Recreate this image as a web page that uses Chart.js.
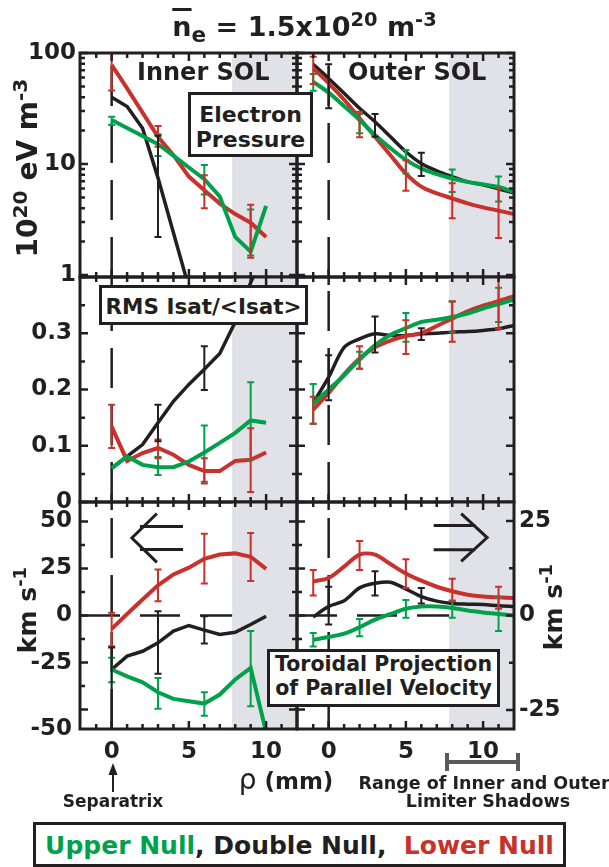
<!DOCTYPE html>
<html>
<head>
    <title>SOL profiles</title>
    <script src="https://cdn.jsdelivr.net/npm/chart.js"></script>
    <style>
        body { margin: 0; background: #fff; font-family: "DejaVu Sans", sans-serif; font-weight: bold; color: #231f20; }
        #fig { position: relative; width: 609px; height: 867px; overflow: hidden; }
        #fig canvas { position: absolute; }
        .txt { position: absolute; white-space: nowrap; line-height: 1; z-index: 5; }
        .box { position: absolute; box-sizing: border-box; border: 3px solid #231f20; background: #fff;
               text-align: center; white-space: nowrap; z-index: 6; }
        .rot { position: absolute; transform: translate(-50%, -50%) rotate(-90deg); white-space: nowrap;
               line-height: 1; z-index: 5; }
        sup, sub { font-size: 0.72em; line-height: 0; }
    </style>
</head>
<body>
<div id="fig">
    <canvas id="pressIn"></canvas>
    <canvas id="pressOut"></canvas>
    <canvas id="rmsIn"></canvas>
    <canvas id="rmsOut"></canvas>
    <canvas id="velIn"></canvas>
    <canvas id="velOut"></canvas>

    <div class="txt" style="left:0;width:609px;top:13px;text-align:center;font-size:27px">
        <span style="text-decoration:overline;text-decoration-thickness:3px">n</span><sub style="font-size:0.8em">e</sub> = 1.5x10<sup>20</sup> m<sup>-3</sup>
    </div>

    <div class="txt" style="left:137px;top:60px;font-size:24px">Inner SOL</div>
    <div class="txt" style="left:348px;top:60px;font-size:24px">Outer SOL</div>

    <div class="box" style="left:188px;top:92px;width:125px;height:65px;font-size:22px;line-height:25px;padding-top:7px">Electron<br>Pressure</div>
    <div class="box" style="left:99px;top:285px;width:209px;height:40px;font-size:21.5px;line-height:31px;padding-top:3px">RMS Isat/&lt;Isat&gt;</div>
    <div class="box" style="left:267px;top:649px;width:233px;height:58px;font-size:20.5px;line-height:23.5px;padding-top:1px">Toroidal Projection<br>of Parallel Velocity</div>

    <div class="rot" style="left:28px;top:168px;font-size:28px">10<sup>20</sup> eV m<sup>-3</sup></div>
    <div class="rot" style="left:27px;top:610px;font-size:25px">km s<sup>-1</sup></div>
    <div class="rot" style="left:553px;top:607px;font-size:25px">km s<sup>-1</sup></div>

    <div class="txt" style="left:286px;top:770px;font-size:23px;transform:translateX(-50%)"><span style="font-weight:normal;font-size:28px;line-height:0">&rho;</span> (mm)</div>
    <div class="txt" style="left:113px;top:793px;font-size:17px;transform:translateX(-50%)">Separatrix</div>
    <div class="txt" style="left:484px;top:775px;font-size:17.5px;transform:translateX(-50%)">Range of Inner and Outer</div>
    <div class="txt" style="left:488px;top:793px;font-size:17.5px;transform:translateX(-50%)">Limiter Shadows</div>

    <svg width="609" height="867" style="position:absolute;left:0;top:0;z-index:4">
        <line x1="113" y1="792" x2="113" y2="772" stroke="#231f20" stroke-width="2"/>
        <polygon points="113,763 108.5,775 117.5,775" fill="#231f20"/>
        <g stroke="#5a5a5a" stroke-width="4">
            <line x1="447" y1="762" x2="518" y2="762"/>
            <line x1="447" y1="753" x2="447" y2="771"/>
            <line x1="518" y1="753" x2="518" y2="771"/>
        </g>
    </svg>

    <div class="box" style="left:33px;top:822px;width:533px;height:45px;font-size:25px;line-height:37px;padding-top:2px">
        <span style="color:#00a14b">Upper Null</span>, Double Null,&nbsp; <span style="color:#c8312c">Lower Null</span>
    </div>
</div>

<script>
    const GREEN = '#00a14b', BLACK = '#231f20', RED = '#c8312c', SHADE = '#e1e2e7';
    const TICK_FONT = { family: 'DejaVu Sans', size: 23, weight: 'bold' };

    // x axis: distance from separatrix rho (mm)
    const RHO_MIN = -2.05, RHO_MAX = 12;
    const SHADOW_START = 7.8;
    const rhoTicks = [0, 5, 10];
    const innerRho = [0, 1, 2, 3, 4, 5, 6, 7, 8, 9, 10];
    const outerRho = [-1, 0, 1, 2, 3, 4, 5, 6, 7, 8, 9, 10, 11, 12];

    // electron pressure (10^20 eV m^-3)
    const pressTicks = [1, 10, 100];
    const pressInnerUpper  = [24.9, 21.1, 17.9, 15.1, 11.9, 9.3, 7.3, 5.1, 2.2, 1.62, 4.2];
    const pressInnerDouble = [40, 33, 21, 7.5, 2.4, 0.77, null, null, null, null, null];
    const pressInnerLower  = [78, 48, 29, 17.6, 12, 7.7, 5.8, 4.4, 3.54, 2.96, 2.2];
    const pressOuterUpper  = [55, 43.9, 33.2, 24.9, 18.3, 13.9, 10.9, 9.1, 8.1, 7.4, 6.9, 6.55, 6.2, 5.6];
    const pressOuterDouble = [79, 59, 43.4, 31.8, 24, 17.6, 12.9, 10.1, 8.67, 7.7, 6.9, 6.5, 5.95, 5.5];
    const pressOuterLower  = [72.8, 53.3, 37.9, 25.8, 17.6, 12.0, 8.2, 6.25, 5.44, 4.9, 4.42, 4.07, 3.8, 3.54];
    // error bars: [rho, low, high]
    const pressInnerUpperErr  = [[0, 22.4, 26.7], [3, 11.8, 18.5], [6, 5.3, 9.8], [9, 1.5, 3.9]];
    const pressInnerDoubleErr = [[3, 2.2, 18]];
    const pressInnerLowerErr  = [[0, 46, 130], [3, 14.3, 22], [6, 4.0, 7.9], [9, 1.43, 4.3]];
    const pressOuterUpperErr  = [[-1, 45.8, 64.6], [2, 18.9, 28.2], [5, 8.2, 13.4], [8, 5.6, 8.9], [11, 4.6, 7.7]];
    const pressOuterDoubleErr = [[0, 31.8, 79], [3, 17.6, 28.2], [6, 7.8, 12.6]];
    const pressOuterLowerErr  = [[-1, 52.6, 92.7], [2, 17.4, 29.6], [5, 5.75, 10.8], [8, 3.24, 6.7], [11, 2.15, 6.0]];

    // RMS Isat / <Isat>
    const rmsTicks = [0, 0.1, 0.2, 0.3];
    const rmsInnerUpper  = [0.060, 0.081, 0.066, 0.062, 0.062, 0.072, 0.088, 0.105, 0.123, 0.145, 0.141];
    const rmsInnerDouble = [0.060, 0.081, 0.102, 0.141, 0.179, 0.209, 0.236, 0.264, 0.32, 0.39, 0.45];
    const rmsInnerLower  = [0.134, 0.073, 0.087, 0.096, 0.084, 0.066, 0.055, 0.055, 0.073, 0.075, 0.088];
    const rmsOuterUpper  = [0.175, 0.200, 0.225, 0.253, 0.279, 0.297, 0.309, 0.320, 0.324, 0.329, 0.335, 0.344, 0.352, 0.360];
    const rmsOuterDouble = [0.176, 0.222, 0.275, 0.290, 0.299, 0.296, 0.296, 0.299, 0.300, 0.302, 0.303, 0.305, 0.308, 0.314];
    const rmsOuterLower  = [0.164, 0.194, 0.227, 0.255, 0.275, 0.287, 0.295, 0.300, 0.313, 0.326, 0.339, 0.349, 0.357, 0.366];
    const rmsInnerUpperErr  = [[3, 0.048, 0.080], [6, 0.036, 0.136], [9, 0.075, 0.213]];
    const rmsInnerDoubleErr = [[3, 0.108, 0.173], [6, 0.199, 0.277]];
    const rmsInnerLowerErr  = [[0, 0.096, 0.173], [3, 0.078, 0.111], [6, 0.033, 0.078], [9, 0.018, 0.131]];
    const rmsOuterUpperErr  = [[-1, 0.139, 0.21], [2, 0.237, 0.267], [5, 0.285, 0.336], [8, 0.302, 0.356], [11, 0.32, 0.381]];
    const rmsOuterDoubleErr = [[0, 0.181, 0.261], [3, 0.266, 0.330], [6, 0.288, 0.309]];
    const rmsOuterLowerErr  = [[-1, 0.139, 0.187], [2, 0.237, 0.277], [5, 0.263, 0.323], [8, 0.285, 0.357], [11, 0.308, 0.40]];

    // toroidal projection of parallel velocity (km/s); inner on left axis, outer on right axis
    const velInnerTicks = [-50, -25, 0, 25, 50];
    const velOuterTicks = [-25, 0, 25];
    const velInnerUpper  = [-28.7, -32.3, -35.5, -40.8, -44.3, -45.6, -46.8, -42, -34, -27.8, -62];
    const velInnerDouble = [-28.7, -21.6, -19, -14.5, -8.3, -5.3, -7.8, -10.1, -8.9, -4.8, -0.4];
    const velInnerLower  = [-7.1, 0.8, 8.5, 16, 21.8, 25.4, 30.1, 32.4, 33, 31.2, 24.8];
    const velOuterUpper  = [-6.4, -5.7, -4.8, -3.1, -1.1, 0.4, 1.8, 2.4, 2.4, 2.0, 1.3, 0.8, 0.4, 0.0];
    const velOuterDouble = [-0.4, 2.4, 3.9, 7.3, 8.5, 8.8, 7.0, 5.0, 3.8, 3.2, 3.0, 2.9, 2.6, 2.4];
    const velOuterLower  = [9.0, 9.9, 12.9, 16.1, 16.1, 13.6, 11.1, 9.2, 7.6, 6.4, 5.5, 5.0, 4.8, 4.6];
    const velInnerUpperErr  = [[0, -35.5, -22.5], [3, -49.6, -33.2], [6, -53.2, -40.8], [9, -48.2, -8.3]];
    const velInnerDoubleErr = [[0, -62, -17], [3, -30.9, 2.3], [6, -14.9, -0.4]];
    const velInnerLowerErr  = [[0, -16.3, 1.4], [3, 7.6, 24.5], [6, 17, 43.4], [9, 18.3, 43.8]];
    const velOuterUpperErr  = [[-1, -8.2, -4.6], [2, -5.5, -0.9], [5, -0.6, 4.1], [8, -0.6, 3.9], [11, -4.1, 4.7]];
    const velOuterDoubleErr = [[0, -2.4, 7.6], [3, 5.3, 11.7], [6, 3.2, 7.3]];
    const velOuterLowerErr  = [[-1, 5.3, 12.0], [2, 12.0, 19.7], [5, 7.3, 14.9], [8, 3.9, 9.7], [11, 1.8, 7.6]];

    // axis ranges
    const PRESS_MIN = 0.959, PRESS_MAX = 100;
    const RMS_MIN = 0, RMS_MAX = 0.4;
    const VEL_IN_MIN = -60.3, VEL_IN_MAX = 60.3;
    const VEL_OUT_MIN = -30, VEL_OUT_MAX = 30;

    // page geometry of the plot frames
    const FIG_W = 609;
    const COL_INNER = { left: 80, right: 297 };
    const COL_OUTER = { left: 297, right: 514 };
    const ROW_PRESS = { top: 53, bottom: 277 };
    const ROW_RMS = { top: 277, bottom: 502 };
    const ROW_VEL = { top: 502, bottom: 729 };
    const PAD = 30, EDGE = 6, XAXIS_H = 45;

    // minor tick marks
    const rhoMinor = [-1, 1, 2, 3, 4, 6, 7, 8, 9, 11];
    const pressMinor = [];
    for (const d of [1, 10]) for (let k = 2; k <= 9; k++) pressMinor.push(k * d);

    const panelPlugin = {
        id: 'panel',
        beforeDatasetsDraw(chart) {
            const { ctx, chartArea: a } = chart;
            const x0 = chart.scales.x.getPixelForValue(SHADOW_START);
            ctx.save();
            ctx.fillStyle = SHADE;
            ctx.fillRect(x0, a.top, a.right - x0, a.bottom - a.top);
            ctx.restore();
        },
        afterDatasetsDraw(chart, args, opts) {
            const { ctx, chartArea: a } = chart;
            const xs = chart.scales.x;
            ctx.save();
            ctx.beginPath();
            ctx.rect(a.left, a.top, a.right - a.left, a.bottom - a.top);
            ctx.clip();
            // error bars
            chart.data.datasets.forEach(ds => {
                if (!ds.errors) return;
                const ys = chart.scales[ds.yAxisID || 'y'];
                ctx.strokeStyle = ds.borderColor;
                ctx.lineWidth = 2;
                ds.errors.forEach(([r, lo, hi]) => {
                    const px = xs.getPixelForValue(r);
                    const p1 = ys.getPixelForValue(lo), p2 = ys.getPixelForValue(hi);
                    ctx.beginPath();
                    ctx.moveTo(px, p1); ctx.lineTo(px, p2);
                    ctx.moveTo(px - 3.5, p1); ctx.lineTo(px + 3.5, p1);
                    ctx.moveTo(px - 3.5, p2); ctx.lineTo(px + 3.5, p2);
                    ctx.stroke();
                });
            });
            // flow direction arrow
            const ar = opts.arrow;
            if (ar) {
                const ys = chart.scales[ar.axis];
                const X = v => xs.getPixelForValue(v), Y = v => ys.getPixelForValue(v);
                ctx.strokeStyle = BLACK;
                ctx.lineWidth = 3;
                ctx.beginPath();
                ctx.moveTo(X(ar.armX), Y(ar.tipY + ar.armDy));
                ctx.lineTo(X(ar.tipX), Y(ar.tipY));
                ctx.lineTo(X(ar.armX), Y(ar.tipY - ar.armDy));
                ctx.moveTo(X(ar.lineX0), Y(ar.tipY + ar.lineDy)); ctx.lineTo(X(ar.lineX1), Y(ar.tipY + ar.lineDy));
                ctx.moveTo(X(ar.lineX0), Y(ar.tipY - ar.lineDy)); ctx.lineTo(X(ar.lineX1), Y(ar.tipY - ar.lineDy));
                ctx.stroke();
            }
            ctx.restore();
        },
        afterDraw(chart, args, opts) {
            const { ctx, chartArea: a } = chart;
            const xs = chart.scales.x;
            const yl = chart.scales[opts.leftAxis || 'y'], yr = chart.scales[opts.rightAxis || 'y'];
            ctx.save();
            ctx.strokeStyle = BLACK;
            ctx.lineWidth = 2.5;
            ctx.beginPath();
            const tickX = (vals, len) => vals.forEach(v => {
                const p = xs.getPixelForValue(v);
                ctx.moveTo(p, a.top); ctx.lineTo(p, a.top + len);
                ctx.moveTo(p, a.bottom); ctx.lineTo(p, a.bottom - len);
            });
            const tickY = (sc, vals, len, left) => vals.forEach(v => {
                const p = sc.getPixelForValue(v);
                if (left) { ctx.moveTo(a.left, p); ctx.lineTo(a.left + len, p); }
                else { ctx.moveTo(a.right, p); ctx.lineTo(a.right - len, p); }
            });
            tickX(rhoTicks, 8);
            tickX(rhoMinor, 5);
            tickY(yl, opts.left.major, 8, true);
            tickY(yl, opts.left.minor, 5, true);
            const rt = opts.right || opts.left;
            tickY(yr, rt.major, 8, false);
            tickY(yr, rt.minor, 5, false);
            ctx.stroke();
            ctx.lineWidth = 3;
            ctx.strokeRect(a.left, a.top, a.right - a.left, a.bottom - a.top);
            ctx.restore();
        }
    };

    function series(rho, vals, color, width, errors, order, tension) {
        const pts = [];
        rho.forEach((r, i) => { if (vals[i] !== null) pts.push({ x: r, y: vals[i] }); });
        return { data: pts, borderColor: color, borderWidth: width, pointRadius: 0, tension: tension,
                 clip: 0, errors: errors, order: order, yAxisID: 'y' };
    }

    function refLine(pts, dash) {
        return { data: pts, borderColor: BLACK, borderWidth: 2.5, borderDash: dash, pointRadius: 0,
                 order: 10, clip: 0, yAxisID: 'y' };
    }

    function xScale(show) {
        return {
            type: 'linear', min: RHO_MIN, max: RHO_MAX, display: show,
            grid: { display: false, drawTicks: false }, border: { display: false },
            ticks: { font: TICK_FONT, color: BLACK, padding: 9, maxRotation: 0, autoSkip: false,
                     callback: (v, i) => (rhoTicks[i] === undefined ? '' : String(rhoTicks[i])) },
            afterBuildTicks: s => { s.ticks = rhoTicks.map(v => ({ value: v })); },
            afterFit: s => { if (show) s.height = XAXIS_H; }
        };
    }

    function yScale(o) {
        const show = !!o.labels;
        return {
            type: o.type || 'linear', axis: 'y', min: o.min, max: o.max, position: o.position || 'left',
            display: show, grid: { display: false, drawTicks: false }, border: { display: false },
            ticks: { font: TICK_FONT, color: BLACK, padding: o.padding || 6, autoSkip: false,
                     callback: (v, i) => (show ? String(o.labels[i]) : '') },
            afterBuildTicks: s => { if (show) s.ticks = o.labels.map(v => ({ value: o.posOf ? o.posOf(v) : v })); },
            afterFit: s => { if (show) s.width = o.width; }
        };
    }

    function panel(id, col, row, cfg) {
        const c = document.getElementById(id);
        const inner = col === COL_INNER;
        const left = inner ? 0 : col.left - EDGE;
        const right = cfg.rightAxis ? FIG_W : col.right + EDGE;
        const top = row.top - PAD;
        const bottom = row.bottom + (cfg.showX ? XAXIS_H : PAD);
        c.width = right - left;
        c.height = bottom - top;
        c.style.left = left + 'px';
        c.style.top = top + 'px';
        const padding = { left: inner ? 0 : EDGE, right: cfg.rightAxis ? 0 : EDGE, top: PAD, bottom: cfg.showX ? 0 : PAD };
        const scales = Object.assign({ x: xScale(!!cfg.showX) }, cfg.scales);
        return new Chart(c, {
            type: 'line',
            data: { datasets: cfg.datasets },
            options: {
                responsive: false, animation: false, events: [],
                layout: { padding: padding },
                plugins: { legend: { display: false }, tooltip: { enabled: false }, panel: cfg.panel },
                scales: scales
            },
            plugins: [panelPlugin]
        });
    }

    const VDASH = [40, 17], HDASH = [40, 20];
    const BLACK_W = 3.5;
    const pressTickMarks = { major: pressTicks, minor: pressMinor };
    const rmsTickMarks = { major: [0, 0.1, 0.2, 0.3, 0.4], minor: [0.05, 0.15, 0.25, 0.35] };
    const velInTickMarks = { major: velInnerTicks, minor: [-37.5, -12.5, 12.5, 37.5] };
    const velOutTickMarks = { major: velOuterTicks, minor: [-12.5, 12.5] };

    // electron pressure
    panel('pressIn', COL_INNER, ROW_PRESS, {
        scales: { y: yScale({ type: 'logarithmic', min: PRESS_MIN, max: PRESS_MAX, labels: pressTicks, width: 80, padding: 4 }) },
        panel: { left: pressTickMarks },
        datasets: [
            series(innerRho, pressInnerUpper, GREEN, 4, pressInnerUpperErr, 1, 0),
            series(innerRho, pressInnerLower, RED, 4, pressInnerLowerErr, 2, 0),
            series(innerRho, pressInnerDouble, BLACK, BLACK_W, pressInnerDoubleErr, 3, 0),
            refLine([{ x: 0, y: PRESS_MIN }, { x: 0, y: PRESS_MAX }], VDASH)
        ]
    });
    panel('pressOut', COL_OUTER, ROW_PRESS, {
        scales: { y: yScale({ type: 'logarithmic', min: PRESS_MIN, max: PRESS_MAX }) },
        panel: { left: pressTickMarks },
        datasets: [
            series(outerRho, pressOuterUpper, GREEN, 4, pressOuterUpperErr, 1, 0.35),
            series(outerRho, pressOuterLower, RED, 4, pressOuterLowerErr, 2, 0.35),
            series(outerRho, pressOuterDouble, BLACK, BLACK_W, pressOuterDoubleErr, 3, 0.35),
            refLine([{ x: 0, y: PRESS_MIN }, { x: 0, y: PRESS_MAX }], VDASH)
        ]
    });

    // fluctuation level
    panel('rmsIn', COL_INNER, ROW_RMS, {
        scales: { y: yScale({ min: RMS_MIN, max: RMS_MAX, labels: rmsTicks, width: 80, padding: 8 }) },
        panel: { left: rmsTickMarks },
        datasets: [
            series(innerRho, rmsInnerUpper, GREEN, 4, rmsInnerUpperErr, 1, 0),
            series(innerRho, rmsInnerLower, RED, 4, rmsInnerLowerErr, 2, 0),
            series(innerRho, rmsInnerDouble, BLACK, BLACK_W, rmsInnerDoubleErr, 3, 0),
            refLine([{ x: 0, y: RMS_MIN }, { x: 0, y: RMS_MAX }], VDASH)
        ]
    });
    panel('rmsOut', COL_OUTER, ROW_RMS, {
        scales: { y: yScale({ min: RMS_MIN, max: RMS_MAX }) },
        panel: { left: rmsTickMarks },
        datasets: [
            series(outerRho, rmsOuterUpper, GREEN, 4, rmsOuterUpperErr, 1, 0.3),
            series(outerRho, rmsOuterLower, RED, 4, rmsOuterLowerErr, 2, 0.3),
            series(outerRho, rmsOuterDouble, BLACK, BLACK_W, rmsOuterDoubleErr, 3, 0.3),
            refLine([{ x: 0, y: RMS_MIN }, { x: 0, y: RMS_MAX }], VDASH)
        ]
    });

    // parallel velocity
    panel('velIn', COL_INNER, ROW_VEL, {
        showX: true,
        scales: { y: yScale({ min: VEL_IN_MIN, max: VEL_IN_MAX, labels: velInnerTicks, width: 80, padding: 8,
                              posOf: v => (v === -50 ? VEL_IN_MIN : v) }) },
        panel: { left: velInTickMarks,
                 arrow: { axis: 'y', tipX: 1.31, tipY: 41.2, armX: 2.93, armDy: 13, lineX0: 1.83, lineX1: 4.62, lineDy: 6.1 } },
        datasets: [
            series(innerRho, velInnerUpper, GREEN, 4, velInnerUpperErr, 1, 0),
            series(innerRho, velInnerLower, RED, 4, velInnerLowerErr, 2, 0),
            series(innerRho, velInnerDouble, BLACK, BLACK_W, velInnerDoubleErr, 3, 0),
            refLine([{ x: 0, y: VEL_IN_MIN }, { x: 0, y: VEL_IN_MAX }], VDASH),
            refLine([{ x: RHO_MIN, y: 0 }, { x: SHADOW_START, y: 0 }], HDASH)
        ]
    });
    panel('velOut', COL_OUTER, ROW_VEL, {
        showX: true, rightAxis: true,
        scales: {
            y: yScale({ min: VEL_OUT_MIN, max: VEL_OUT_MAX, labels: velOuterTicks, width: FIG_W - COL_OUTER.right,
                        padding: 5, position: 'right' }),
            yl: yScale({ min: VEL_IN_MIN, max: VEL_IN_MAX })
        },
        panel: { leftAxis: 'yl', rightAxis: 'y', left: velInTickMarks, right: velOutTickMarks,
                 arrow: { axis: 'y', tipX: 10.26, tipY: 20.6, armX: 8.58, armDy: 6.3, lineX0: 9.5, lineX1: 6.8, lineDy: 3.2 } },
        datasets: [
            series(outerRho, velOuterUpper, GREEN, 4, velOuterUpperErr, 1, 0.3),
            series(outerRho, velOuterLower, RED, 4, velOuterLowerErr, 2, 0.3),
            series(outerRho, velOuterDouble, BLACK, BLACK_W, velOuterDoubleErr, 3, 0.3),
            refLine([{ x: 0, y: VEL_OUT_MIN }, { x: 0, y: VEL_OUT_MAX }], VDASH),
            refLine([{ x: RHO_MIN, y: 0 }, { x: SHADOW_START, y: 0 }], HDASH)
        ]
    });
</script>
</body>
</html>
